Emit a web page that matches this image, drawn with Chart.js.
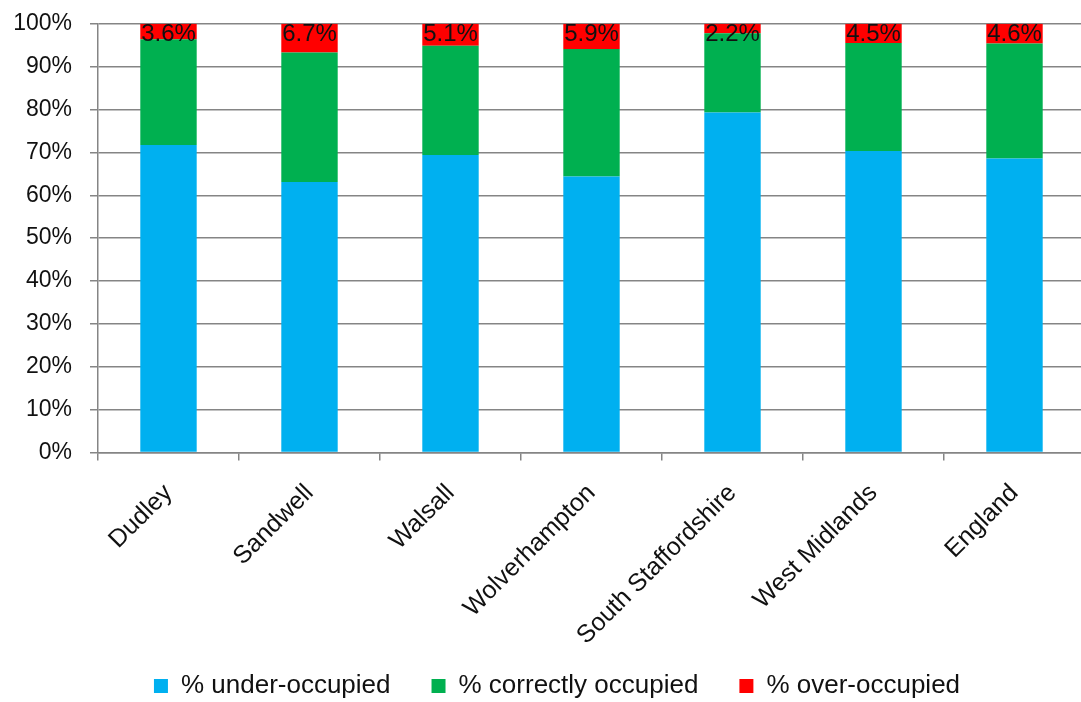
<!DOCTYPE html>
<html lang="en">
<head>
    <meta charset="UTF-8">
    <title>Occupancy</title>
    <script src="https://cdn.jsdelivr.net/npm/chart.js@4.4.0/dist/chart.umd.min.js"></script>
    <style>
        html, body { margin: 0; padding: 0; background: #fff; overflow: hidden; }
        #wrap { width: 1112px; height: 717px; position: relative; top: -8px; }
    </style>
</head>
<body>
    <div id="wrap"><canvas id="myChart"></canvas></div>
    <script>
        // values (percent)
        const categories = ['Dudley', 'Sandwell', 'Walsall', 'Wolverhampton', 'South Staffordshire', 'West Midlands', 'England'];
        const underOccupied = [71.7, 63.1, 69.4, 64.4, 79.3, 70.3, 68.6];
        const correctlyOccupied = [24.7, 30.2, 25.5, 29.7, 18.5, 25.2, 26.8];
        const overOccupied = [3.6, 6.7, 5.1, 5.9, 2.2, 4.5, 4.6];
        const seriesNames = ['% under-occupied', '% correctly occupied', '% over-occupied'];

        const FONT = '"Liberation Sans", Arial, sans-serif';
        const gridGray = '#858585';

        // writes the value of the red series at the top of each bar
        const topLabels = {
            id: 'topLabels',
            afterDatasetsDraw(chart) {
                const ctx = chart.ctx;
                const meta = chart.getDatasetMeta(2);
                ctx.save();
                ctx.font = '24px ' + FONT;
                ctx.fillStyle = '#111';
                ctx.textAlign = 'center';
                ctx.textBaseline = 'alphabetic';
                meta.data.forEach((bar, i) => {
                    ctx.fillText(overOccupied[i].toFixed(1) + '%', bar.x, bar.y + 17);
                });
                ctx.restore();
            }
        };

        // tick labels run a bit past their axis boxes, widen the boxes so they don't get clipped
        const noClip = {
            id: 'noClip',
            afterLayout(chart) {
                const x = chart.scales.x;
                x.bottom = x.top + 215;
                chart.scales.y.left = 0;
            }
        };

        const ctx = document.getElementById('myChart').getContext('2d');
        const myChart = new Chart(ctx, {
            type: 'bar',
            data: {
                labels: categories,
                datasets: [
                    { label: seriesNames[0], data: underOccupied, backgroundColor: '#00B0F0' },
                    { label: seriesNames[1], data: correctlyOccupied, backgroundColor: '#00B050' },
                    { label: seriesNames[2], data: overOccupied, backgroundColor: '#FF0000' }
                ]
            },
            options: {
                responsive: true,
                maintainAspectRatio: false,
                animation: false,
                layout: { padding: { top: 0, right: 27, left: 29, bottom: 0 } },
                datasets: { bar: { categoryPercentage: 1, barPercentage: 0.4, borderWidth: 0 } },
                plugins: {
                    tooltip: { enabled: false },
                    legend: {
                        position: 'bottom',
                        labels: {
                            color: '#111',
                            font: { family: FONT, size: 26 },
                            boxWidth: 14,
                            boxHeight: 14,
                            padding: 41
                        }
                    }
                },
                scales: {
                    x: {
                        stacked: true,
                        afterFit: (s) => { s.height = 179.5; },
                        grid: { drawOnChartArea: false, drawTicks: true, tickLength: 8, color: gridGray, lineWidth: 1.5, offset: true },
                        border: { color: gridGray, width: 1.5 },
                        ticks: { color: '#111', font: { family: FONT, size: 25 }, minRotation: 45, maxRotation: 45, padding: 18, autoSkip: false }
                    },
                    y: {
                        stacked: true,
                        min: 0,
                        max: 100,
                        afterFit: (s) => { s.width = 69; },
                        grid: { color: gridGray, lineWidth: 1.5, tickLength: 8 },
                        border: { color: gridGray, width: 1.5 },
                        ticks: {
                            stepSize: 10,
                            padding: 18,
                            color: '#111',
                            font: { family: FONT, size: 23 },
                            callback: (v) => v + '%'
                        }
                    }
                }
            },
            plugins: [topLabels, noClip]
        });
    </script>
</body>
</html>
